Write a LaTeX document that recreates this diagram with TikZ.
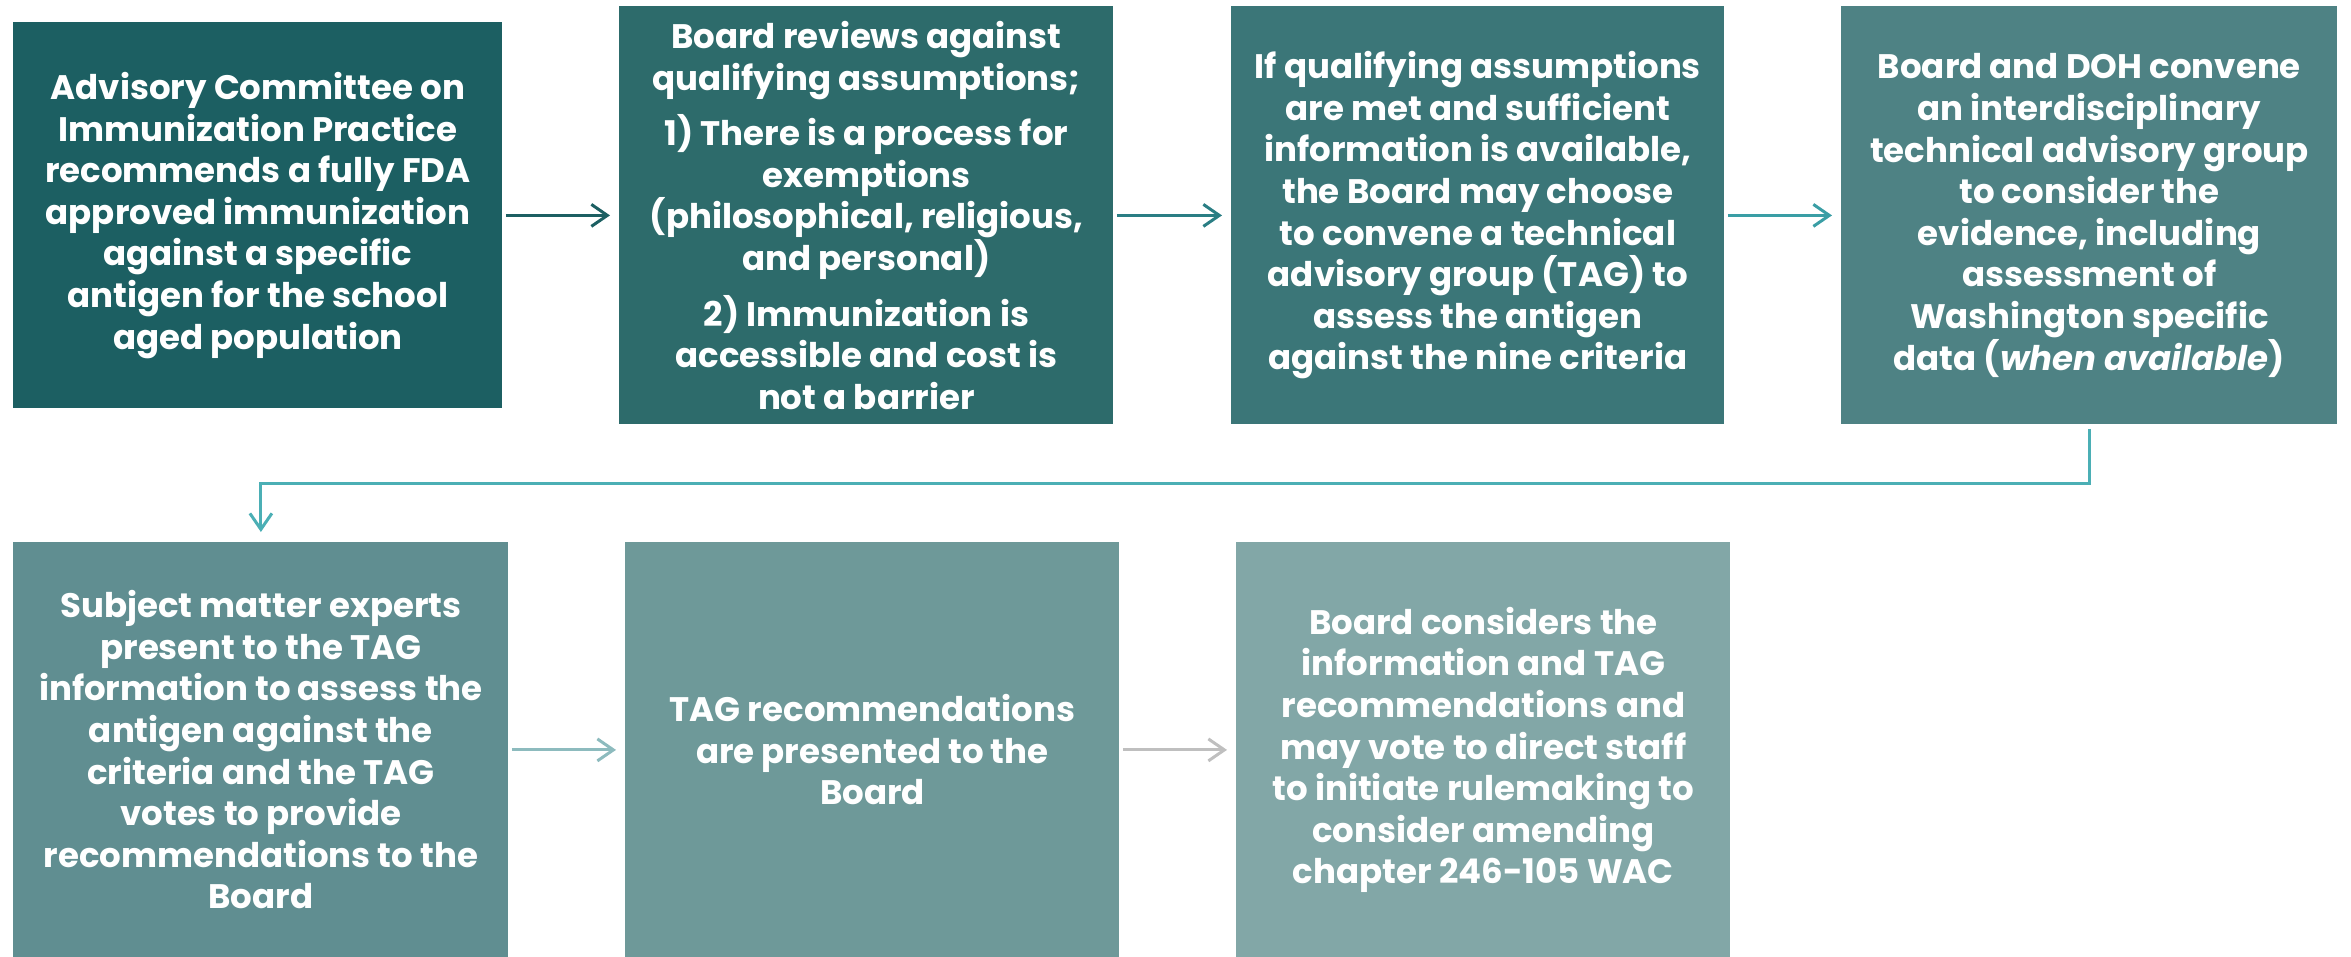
\documentclass[tikz,border=0pt]{standalone}
\usepackage{fontspec}
\setmainfont{Poppins}
\usetikzlibrary{arrows.meta}
\definecolor{cA}{HTML}{1C5F62}
\definecolor{cB}{HTML}{2D6B6B}
\definecolor{cC}{HTML}{3B7678}
\definecolor{cD}{HTML}{4E8284}
\definecolor{cE}{HTML}{608E91}
\definecolor{cF}{HTML}{6E9999}
\definecolor{cG}{HTML}{82A7A7}
\definecolor{aA}{HTML}{1C5F62}
\definecolor{aB}{HTML}{2A7E84}
\definecolor{aC}{HTML}{3A9EA5}
\definecolor{aD}{HTML}{4BAFB5}
\definecolor{aE}{HTML}{8DBBBE}
\definecolor{aF}{HTML}{BFBFBF}
\begin{document}
\begin{tikzpicture}[x=0.5pt,y=-0.5pt,
  box/.style={anchor=north west, inner sep=0pt, text=white, align=center,
    font=\bfseries\fontsize{17}{20.8}\selectfont},
  arr/.style={line width=1.5pt, -{Straight Barb[length=8pt,width=11pt]},
    shorten <=1.5pt, shorten >=4.5pt}]
\useasboundingbox (0,0) rectangle (2351,957);
\node[box, fill=cA, minimum width=244.5pt, minimum height=193pt] (b1) at (13,22)
  {Advisory Committee on\\Immunization Practice\\recommends a fully FDA\\approved immunization\\against a specific\\antigen for the school\\aged population};
\node[box, fill=cB, minimum width=247pt, minimum height=209pt] (b2) at (619,6)
  {Board reviews against\\qualifying assumptions;\\[7pt]1) There is a process for\\exemptions\\(philosophical, religious,\\and personal)\\[7pt]2) Immunization is\\accessible and cost is\\not a barrier};
\node[box, fill=cC, minimum width=246.5pt, minimum height=209pt] (b3) at (1231,6)
  {If qualifying assumptions\\are met and sufficient\\information is available,\\the Board may choose\\to convene a technical\\advisory group (TAG) to\\assess the antigen\\against the nine criteria};
\node[box, fill=cD, minimum width=248pt, minimum height=209pt] (b4) at (1841,6)
  {Board and DOH convene\\an interdisciplinary\\technical advisory group\\to consider the\\evidence, including\\assessment of\\Washington specific\\data (\textit{when available})};
\node[box, fill=cE, minimum width=247.5pt, minimum height=207.5pt] (b5) at (13,542)
  {Subject matter experts\\present to the TAG\\information to assess the\\antigen against the\\criteria and the TAG\\votes to provide\\recommendations to the\\Board};
\node[box, fill=cF, minimum width=247pt, minimum height=207.5pt] (b6) at (625,542)
  {TAG recommendations\\are presented to the\\Board};
\node[box, fill=cG, minimum width=247pt, minimum height=207.5pt] (b7) at (1236,542)
  {Board considers the\\information and TAG\\recommendations and\\may vote to direct staff\\to initiate rulemaking to\\consider amending\\chapter 246-105 WAC};
\draw[arr, aA] (b1) -- (b2);
\draw[arr, aB] (b2) -- (b3);
\draw[arr, aC] (b3) -- (b4);
\draw[arr, aD, shorten <=2pt, shorten >=5pt] (b4.south) -- ++(0,59) -| (b5.north);
\draw[arr, aE] (b5) -- (b6);
\draw[arr, aF] (b6) -- (b7);
\end{tikzpicture}
\end{document}
